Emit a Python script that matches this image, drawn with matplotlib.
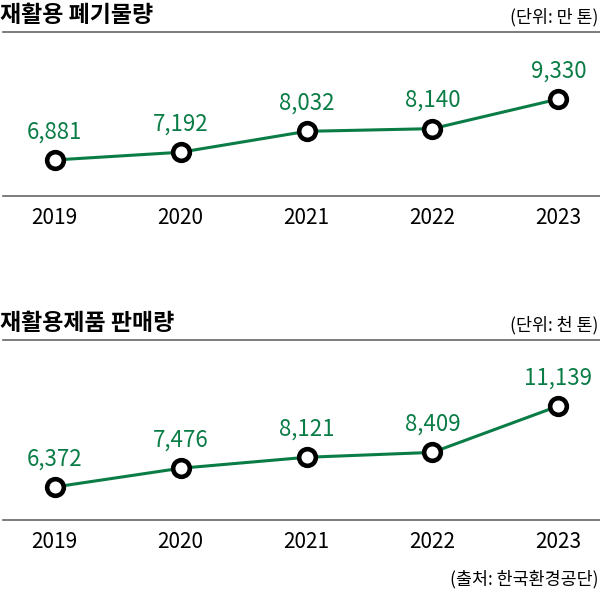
import matplotlib
matplotlib.use('Agg')
import matplotlib.pyplot as plt

plt.rcParams['font.family'] = ['Noto Sans CJK KR', 'DejaVu Sans']

years = ['2019', '2020', '2021', '2022', '2023']
waste = [6881, 7192, 8032, 8140, 9330]          # 만 톤
products = [6372, 7476, 8121, 8409, 11139]      # 천 톤

GREEN = '#0a7c46'
GRAY = '#666666'

W, H = 600, 593
fig = plt.figure(figsize=(W / 100, H / 100), dpi=100)


def panel(top_px, bot_px, values, ylim, title, unit):
    ax = fig.add_axes([3 / W, 1 - bot_px / H, 597 / W, (bot_px - top_px) / H])
    x = list(range(len(values)))
    ax.plot(x, values, color=GREEN, lw=2.2, zorder=2)
    ax.plot(x, values, 'o', ms=12, mfc='white', mec='black', mew=3.3, zorder=3)
    for xi, v in zip(x, values):
        ax.annotate(f'{v:,}', (xi, v), xytext=(0, 12), textcoords='offset points',
                    ha='center', va='bottom', color=GREEN, fontsize=16)
    ax.set_xlim(-0.41, 4.33)
    ax.set_ylim(*ylim)
    ax.set_yticks([])
    ax.set_xticks(x)
    ax.set_xticklabels(years, fontsize=15)
    ax.tick_params(axis='x', length=0, pad=8)
    for s in ['left', 'right']:
        ax.spines[s].set_visible(False)
    for s in ['top', 'bottom']:
        ax.spines[s].set_color(GRAY)
        ax.spines[s].set_linewidth(1.2)
    fig.text(0 / W, 1 - (top_px - 17) / H, title, fontsize=16.5, fontweight='bold',
             ha='left', va='center')
    fig.text(598 / W, 1 - (top_px - 15) / H, unit, fontsize=12.5,
             ha='right', va='center')
    return ax


panel(32, 196, waste, (5434, 12023), '재활용 폐기물량', '(단위: 만 톤)')
panel(340, 520, products, (4430, 15023), '재활용제품 판매량', '(단위: 천 톤)')
fig.text(598 / W, 1 - 579 / H, '(출처: 한국환경공단)', fontsize=12.5,
         ha='right', va='center')

fig.savefig('out.png', dpi=100)
